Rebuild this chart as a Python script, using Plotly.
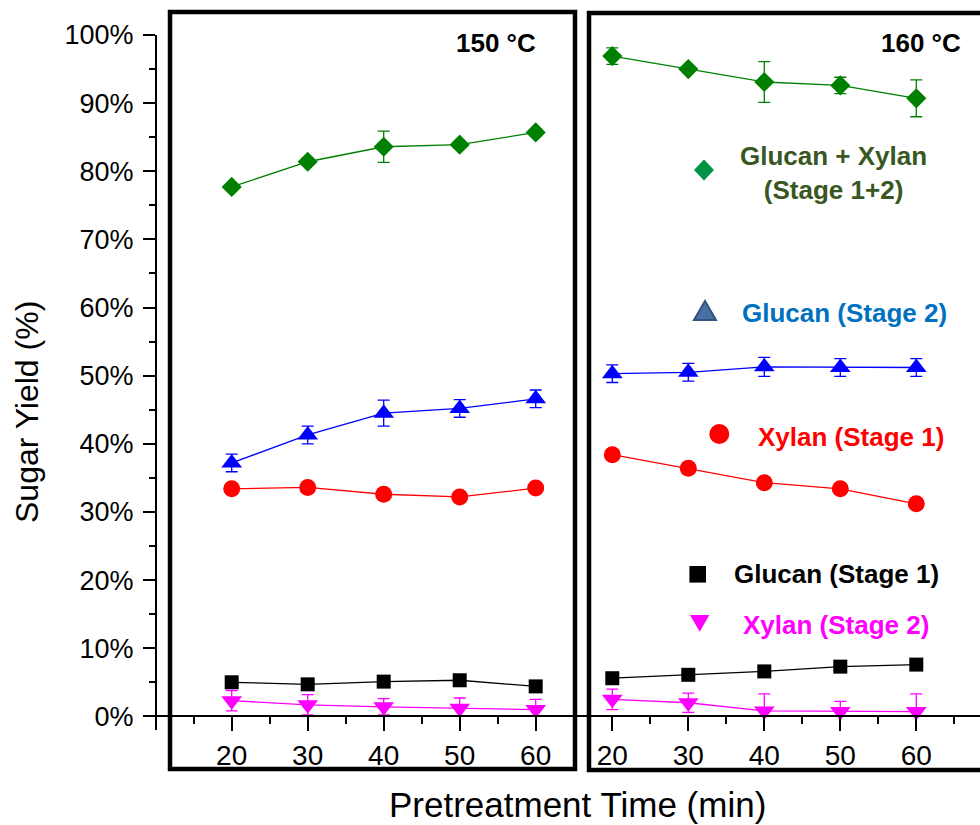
import plotly.graph_objects as go

# ---------------- data ----------------
times = [20, 30, 40, 50, 60]

# 150 °C
gx_150 = [77.7, 81.4, 83.6, 83.9, 85.7]
gx_150_err = [0.5, 0.5, 2.3, 0.5, 0.5]
g2_150 = [37.2, 41.3, 44.5, 45.2, 46.6]
g2_150_err = [1.3, 1.3, 1.9, 1.3, 1.3]
x1_150 = [33.4, 33.6, 32.6, 32.2, 33.5]
x1_150_err = [0.4, 0.4, 0.4, 0.4, 0.4]
g1_150 = [5.0, 4.7, 5.1, 5.3, 4.4]
g1_150_err = [0.4, 0.3, 0.3, 0.3, 0.3]
x2_150 = [2.3, 1.7, 1.4, 1.2, 1.0]
x2_150_err = [1.5, 1.5, 1.2, 1.5, 1.5]

# 160 °C
gx_160 = [96.9, 95.0, 93.1, 92.6, 90.7]
gx_160_err = [1.2, 0.5, 3.0, 1.2, 2.7]
g2_160 = [50.3, 50.5, 51.3, 51.2, 51.2]
g2_160_err = [1.3, 1.3, 1.4, 1.3, 1.3]
x1_160 = [38.4, 36.4, 34.3, 33.4, 31.2]
x1_160_err = [0.3, 0.3, 0.3, 0.3, 0.3]
g1_160 = [5.6, 6.1, 6.6, 7.3, 7.6]
g1_160_err = [0.3, 0.3, 0.3, 0.3, 0.3]
x2_160 = [2.5, 2.0, 0.8, 0.7, 0.7]
x2_160_err = [1.5, 1.4, 2.5, 1.5, 2.6]

series_names = ["Glucan + Xylan<br>(Stage 1+2)", "Glucan (Stage 2)", "Xylan (Stage 1)",
                "Glucan (Stage 1)", "Xylan (Stage 2)"]
panel_labels = ["150 °C", "160 °C"]

# ---------------- layout constants ----------------
W, H = 980, 825
L, R, T, B = 157, 0, 35, 95
PW = W - L - R
PH = H - T - B
BOTTOM = H - B
Y_RANGE = [-2, 100]
SCALE = 7.6  # px per minute
SPLIT = 582
LEFT_X0 = 20 - (231.7 - L) / SCALE
RIGHT_X0 = 20 - (612.3 - SPLIT) / SCALE
FONT = "Liberation Sans, Arial, Helvetica, sans-serif"


def px(x):
    return (x - L) / PW


def py(y):
    return (BOTTOM - y) / PH


styles = [
    dict(color="#008000", symbol="diamond", size=15.5),
    dict(color="#0000FF", symbol="triangle-up", size=18),
    dict(color="#FF0000", symbol="circle", size=17),
    dict(color="#000000", symbol="square", size=14),
    dict(color="#FF00FF", symbol="triangle-down", size=18),
]

panels = [
    ("x", [gx_150, g2_150, x1_150, g1_150, x2_150],
     [gx_150_err, g2_150_err, x1_150_err, g1_150_err, x2_150_err]),
    ("x2", [gx_160, g2_160, x1_160, g1_160, x2_160],
     [gx_160_err, g2_160_err, x1_160_err, g1_160_err, x2_160_err]),
]

fig = go.Figure()
for xa, ys, errs in panels:
    for name, y, e, st in zip(series_names, ys, errs, styles):
        fig.add_trace(go.Scatter(
            x=times, y=y, xaxis=xa, yaxis="y", mode="lines+markers",
            name=name, showlegend=False,
            line=dict(color=st["color"], width=1.3),
            marker=dict(color=st["color"], symbol=st["symbol"], size=st["size"],
                        line=dict(width=0)),
            error_y=dict(type="data", array=e,
                         arrayminus=[min(a, b) for a, b in zip(e, y)],
                         color=st["color"], thickness=1.3, width=6),
        ))

axis_common = dict(
    showgrid=False, zeroline=False, showline=True, linecolor="black", linewidth=2,
    ticks="outside", tickcolor="black", tickwidth=2, ticklen=14,
    tickmode="linear", tick0=0, dtick=10,
    tickfont=dict(family=FONT, size=28, color="black"),
    minor=dict(dtick=5, tick0=0, ticks="outside", ticklen=7, tickwidth=2, tickcolor="black"),
    anchor="free", position=py(BOTTOM - (0 - Y_RANGE[0]) / (Y_RANGE[1] - Y_RANGE[0]) * PH),
)

fig.update_layout(
    width=W, height=H,
    margin=dict(l=L, r=R, t=T, b=B, pad=0),
    paper_bgcolor="white", plot_bgcolor="white",
    showlegend=False,
    xaxis=dict(domain=[0, px(SPLIT)], range=[LEFT_X0, LEFT_X0 + (SPLIT - L) / SCALE], **axis_common),
    xaxis2=dict(domain=[px(SPLIT), 1], range=[RIGHT_X0, RIGHT_X0 + (W - R - SPLIT) / SCALE], **axis_common),
    yaxis=dict(
        range=Y_RANGE, anchor="x", showgrid=False, zeroline=False,
        showline=True, linecolor="black", linewidth=2,
        ticks="outside", tickcolor="black", tickwidth=2, ticklen=12,
        tickmode="linear", tick0=0, dtick=10, ticksuffix="%",
        ticklabelstandoff=4,
        tickfont=dict(family=FONT, size=27, color="black"),
        minor=dict(dtick=5, tick0=0, ticks="outside", ticklen=6, tickwidth=2, tickcolor="black"),
    ),
)

# panel boxes
shapes = [
    dict(type="rect", xref="paper", yref="paper", x0=px(170), x1=px(575), y0=py(769), y1=py(12),
         line=dict(color="black", width=4.5), fillcolor="rgba(0,0,0,0)", layer="above"),
    dict(type="rect", xref="paper", yref="paper", x0=px(589), x1=px(1010), y0=py(770), y1=py(13),
         line=dict(color="black", width=4.5), fillcolor="rgba(0,0,0,0)", layer="above"),
]


def poly(points, fill, line_color=None, lw=0):
    path = "M " + " L ".join(f"{px(a):.5f},{py(b):.5f}" for a, b in points) + " Z"
    return dict(type="path", xref="paper", yref="paper", path=path, fillcolor=fill,
                line=dict(color=line_color or fill, width=lw), layer="above")


# legend marker shapes
shapes.append(poly([(704, 159.5), (714, 170), (704, 180.5), (694, 170)], "#009245"))
shapes.append(poly([(705, 301), (716, 320), (694, 320)], "#4A6FA5", "#34527F", 2))
shapes.append(dict(type="circle", xref="paper", yref="paper", x0=px(709.3), x1=px(729.3),
                   y0=py(444), y1=py(424), fillcolor="#FF0000", line=dict(color="#FF0000", width=0)))
shapes.append(poly([(689.4, 566), (706, 566), (706, 582.6), (689.4, 582.6)], "#000000"))
shapes.append(poly([(690, 615), (709.4, 615), (699.7, 631.7)], "#FF00FF"))
fig.update_layout(shapes=shapes)

# annotations
ann = []
legend_text = [
    (series_names[0], 833, 173, "#385723"),
    (series_names[1], 844, 313, "#0070C0"),
    (series_names[2], 851, 437, "#FF0000"),
    (series_names[3], 836, 574, "#000000"),
    (series_names[4], 836, 625, "#FF00FF"),
]
for txt, cx, cy, col in legend_text:
    ann.append(dict(text=f"<b>{txt}</b>", x=px(cx), y=py(cy), xref="paper", yref="paper",
                    xanchor="center", yanchor="middle", showarrow=False,
                    font=dict(family=FONT, size=26, color=col)))
for lab, cx in zip(panel_labels, [496, 921]):
    ann.append(dict(text=f"<b>{lab}</b>", x=px(cx), y=py(43), xref="paper", yref="paper",
                    xanchor="center", yanchor="middle", showarrow=False,
                    font=dict(family=FONT, size=26, color="black")))
ann.append(dict(text="Pretreatment Time (min)", x=px(577), y=py(804), xref="paper", yref="paper",
                xanchor="center", yanchor="middle", showarrow=False,
                font=dict(family=FONT, size=35, color="black")))
ann.append(dict(text="Sugar Yield (%)", x=px(27), y=py(412), xref="paper", yref="paper",
                xanchor="center", yanchor="middle", showarrow=False, textangle=-90,
                font=dict(family=FONT, size=32, color="black")))
fig.update_layout(annotations=ann)

fig.write_html("out.html")
